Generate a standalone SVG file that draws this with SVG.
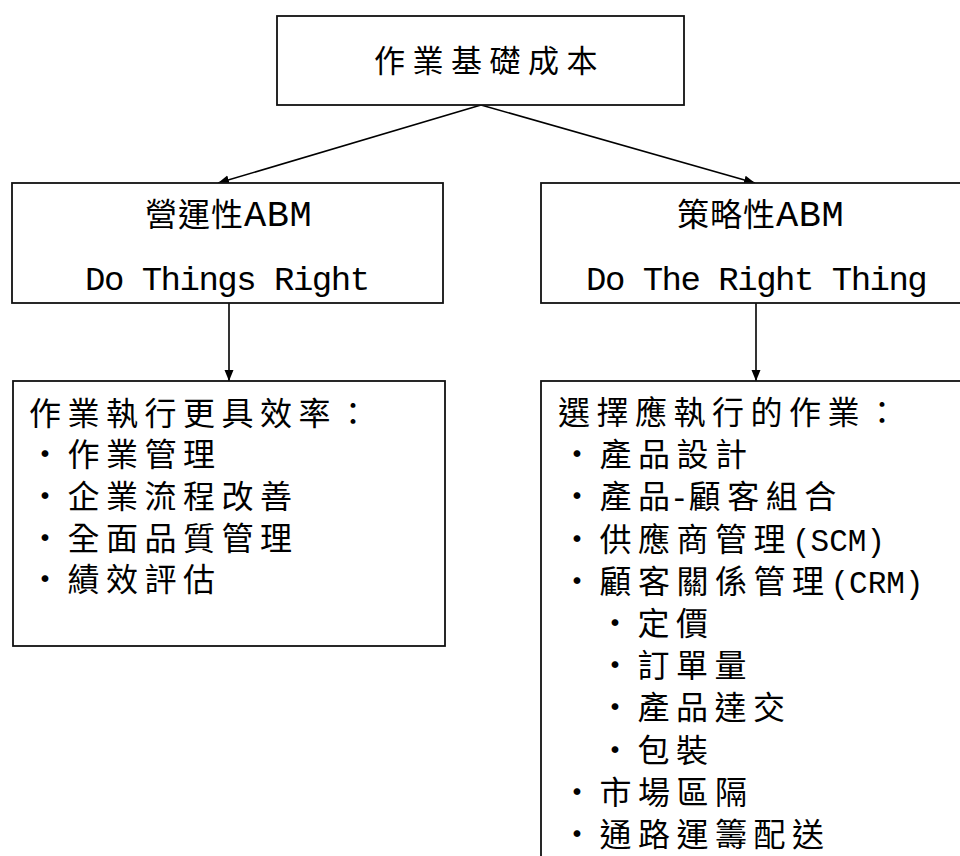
<svg xmlns="http://www.w3.org/2000/svg" width="960" height="856" viewBox="0 0 960 856">
  <style>
    .box { fill: #fff; stroke: #111; stroke-width: 1.8; }
    .conn { stroke: #000; stroke-width: 1.6; fill: none; marker-end: url(#arrow); }
    .cjk { font-family: "Noto Sans CJK TC", "Noto Sans CJK SC", sans-serif; font-size: 31px; fill: #000; }
    .lst { font-family: "Liberation Mono", "Noto Sans CJK TC", monospace; font-size: 32px; letter-spacing: 6.5px; fill: #000; }
    .lat { font-family: "Liberation Mono", monospace; font-size: 31px; letter-spacing: 0; }
    .mid { font-family: "Liberation Mono", "Noto Sans CJK TC", monospace; font-size: 34px; fill: #000; }
  </style>
  <defs>
    <marker id="arrow" markerUnits="userSpaceOnUse" markerWidth="12" markerHeight="10" refX="11" refY="5" orient="auto">
      <path d="M0,0.5 L11,5 L0,9.5 z" fill="#000"/>
    </marker>
  </defs>
  <rect width="960" height="856" fill="#fff"/>

  <g id="connectors">
    <line class="conn" x1="481" y1="105" x2="218" y2="183"/>
    <line class="conn" x1="481" y1="105" x2="755" y2="183"/>
    <line class="conn" x1="229" y1="303" x2="229" y2="381"/>
    <line class="conn" x1="756" y1="303" x2="756" y2="381"/>
  </g>

  <g id="node-root">
    <rect class="box" x="277" y="16" width="407" height="89"/>
    <text class="cjk" x="374" y="72" letter-spacing="7.5">作業基礎成本</text>
  </g>

  <g id="node-operational">
    <rect class="box" x="12" y="183" width="431" height="120"/>
    <text class="mid" x="145" y="226"><tspan font-family="Noto Sans CJK TC, sans-serif" font-size="32" letter-spacing="1">營運性</tspan><tspan font-size="37" letter-spacing="0.5">ABM</tspan></text>
    <text class="mid" x="85" y="290" letter-spacing="-1.5">Do Things Right</text>
  </g>

  <g id="node-strategic">
    <rect class="box" x="541" y="183" width="440" height="120"/>
    <text class="mid" x="677" y="226"><tspan font-family="Noto Sans CJK TC, sans-serif" font-size="32" letter-spacing="1">策略性</tspan><tspan font-size="37" letter-spacing="0.5">ABM</tspan></text>
    <text class="mid" x="586" y="290" letter-spacing="-1.5">Do The Right Thing</text>
  </g>

  <g id="node-efficiency">
    <rect class="box" x="13" y="381" width="432" height="265"/>
    <text class="lst" x="29" y="425">作業執行更具效率：</text>
    <text class="lst" x="29" y="466">・作業管理</text>
    <text class="lst" x="29" y="508">・企業流程改善</text>
    <text class="lst" x="29" y="550">・全面品質管理</text>
    <text class="lst" x="29" y="591">・績效評估</text>
  </g>

  <g id="node-choose">
    <rect class="box" x="541" y="381" width="440" height="500"/>
    <text class="lst" x="558" y="424">選擇應執行的作業：</text>
    <text class="lst" x="561" y="466">・產品設計</text>
    <text class="lst" x="561" y="508">・產<tspan letter-spacing="0">品</tspan><tspan class="lat" letter-spacing="-6">-</tspan>顧客組合</text>
    <text class="lst" x="561" y="551">・供應商管理<tspan class="lat">(SCM)</tspan></text>
    <text class="lst" x="561" y="593">・顧客關係管理<tspan class="lat">(CRM)</tspan></text>
    <text class="lst" x="599" y="635">・定價</text>
    <text class="lst" x="599" y="677">・訂單量</text>
    <text class="lst" x="599" y="719">・產品達交</text>
    <text class="lst" x="599" y="762">・包裝</text>
    <text class="lst" x="561" y="804">・市場區隔</text>
    <text class="lst" x="561" y="846">・通路運籌配送</text>
  </g>
</svg>
